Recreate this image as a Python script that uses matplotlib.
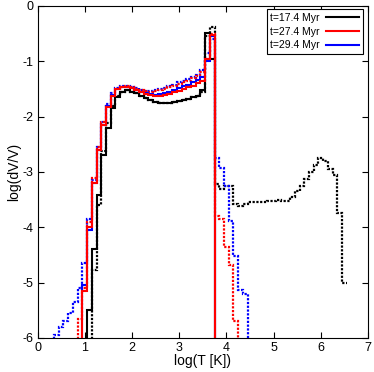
"""
Volume-weighted temperature PDF, log(dV/V) vs log(T), three snapshots.
Solid = one region, dotted = the other (histogram steps, 0.1 dex bins).
"""

import numpy as np
import matplotlib
matplotlib.use("Agg")
import matplotlib.pyplot as plt


# -------------------------------------------------
# DATA (bin centres start at *_start, 0.1 dex wide)
# -------------------------------------------------
BIN = 0.1

black_solid_start = 1.0
black_solid = [-7, -5.5, -4.4, -3.42, -2.7, -2.2, -1.85, -1.65, -1.55, -1.52,
               -1.55, -1.58, -1.62, -1.67, -1.7, -1.73, -1.75, -1.75, -1.75,
               -1.74, -1.72, -1.7, -1.68, -1.65, -1.62, -1.52, -0.48, -0.95, -7]

red_solid_start = 0.9
red_solid = [-7, -5.15, -4.0, -3.2, -2.6, -2.15, -1.83, -1.62, -1.5, -1.47,
             -1.46, -1.48, -1.52, -1.56, -1.59, -1.61, -1.62, -1.62, -1.61,
             -1.59, -1.56, -1.53, -1.5, -1.47, -1.44, -1.4, -1.36, -0.95,
             -0.52, -7]

blue_solid_start = 0.9
blue_solid = [-7, -5.05, -4.05, -3.2, -2.6, -2.15, -1.8, -1.6, -1.5, -1.47,
              -1.47, -1.49, -1.52, -1.55, -1.58, -1.59, -1.6, -1.59, -1.58,
              -1.56, -1.52, -1.48, -1.45, -1.42, -1.38, -1.33, -1.28, -1.0,
              -0.55, -7]

black_dot_start = 1.1
black_dot = [-7, -4.78, -3.6, -2.62, -2.12, -1.8, -1.62, -1.55, -1.52, -1.55,
             -1.58, -1.62, -1.67, -1.7, -1.73, -1.75, -1.75, -1.75, -1.74,
             -1.72, -1.7, -1.68, -1.65, -1.62, -1.55, -0.55, -0.38, -3.22,
             -3.3, -3.25, -3.25, -3.58, -3.62, -3.58, -3.55, -3.55, -3.55,
             -3.54, -3.52, -3.52, -3.5, -3.52, -3.52, -3.45, -3.35, -3.25,
             -3.12, -3.0, -2.88, -2.75, -2.8, -2.95, -3.05, -3.75, -5.0]

red_dot_start = 0.8
red_dot = [-7, -5.65, -5.1, -3.9, -3.1, -2.55, -2.1, -1.8, -1.6, -1.5, -1.46,
           -1.45, -1.47, -1.5, -1.52, -1.54, -1.55, -1.54, -1.52, -1.5, -1.47,
           -1.44, -1.41, -1.38, -1.35, -1.31, -1.26, -1.2, -0.95, -0.5, -3.8,
           -3.85, -4.35, -4.68, -5.7, -7]

blue_dot_start = 0.3
blue_dot = [-7, -5.95, -5.8, -5.7, -5.55, -5.35, -5.1, -4.65, -3.85, -3.15,
            -2.55, -2.1, -1.78, -1.58, -1.48, -1.45, -1.44, -1.46, -1.49,
            -1.52, -1.54, -1.54, -1.52, -1.5, -1.48, -1.45, -1.42, -1.38,
            -1.35, -1.32, -1.28, -1.24, -1.15, -0.85, -0.6, -2.75, -2.92,
            -3.25, -3.88, -4.52, -5.13, -5.2, -7]

labels = ["t=17.4 Myr", "t=27.4 Myr", "t=29.4 Myr"]


def edges_for(start, values):
    """Bin edges for a run of 0.1-dex bins starting at centre `start`."""
    n = len(values)
    return start - BIN / 2 + BIN * np.arange(n + 1)


# -------------------------------------------------
# PLOT
# -------------------------------------------------
plt.rcParams["font.family"] = ["Liberation Sans", "DejaVu Sans"]
plt.rcParams["axes.unicode_minus"] = False

fig = plt.figure(figsize=(3.74, 3.72), dpi=100)
ax = fig.add_axes([0.1003, 0.0914, 0.8837, 0.8925])

DOT = (0, (1, 0.7))
LW = 1.5
LW_DOT = 1.6

ax.stairs(black_dot, edges_for(black_dot_start, black_dot), baseline=None,
          color="black", lw=LW_DOT, linestyle=DOT)
ax.stairs(blue_dot, edges_for(blue_dot_start, blue_dot), baseline=None,
          color="#0000ff", lw=LW_DOT, linestyle=DOT)
ax.stairs(red_dot, edges_for(red_dot_start, red_dot), baseline=None,
          color="#ff0000", lw=LW_DOT, linestyle=DOT)

ax.stairs(black_solid, edges_for(black_solid_start, black_solid),
          baseline=None, color="black", lw=LW)
ax.stairs(blue_solid, edges_for(blue_solid_start, blue_solid),
          baseline=None, color="#0000ff", lw=LW)
ax.stairs(red_solid, edges_for(red_solid_start, red_solid),
          baseline=None, color="#ff0000", lw=LW)

ax.set_xlim(0, 7)
ax.set_ylim(-6, 0)
ax.set_xticks(range(0, 8))
ax.set_yticks(range(-6, 1))
ax.tick_params(direction="in", length=4, width=0.8, labelsize=9,
               top=True, right=True, pad=3)
for s in ax.spines.values():
    s.set_linewidth(0.8)

ax.set_xlabel("log(T [K])", fontsize=10, labelpad=0)
ax.set_ylabel("log(dV/V)", fontsize=10, labelpad=1)

leg_lines = [plt.Line2D([], [], color=c, lw=LW) for c in ("black", "#ff0000", "#0000ff")]
ax.legend(leg_lines, labels, loc="upper right", bbox_to_anchor=(0.985, 0.99),
          markerfirst=False, fontsize=7.5, frameon=True, fancybox=False,
          edgecolor="black", framealpha=1, handlelength=3.2,
          borderpad=0.35, labelspacing=0.35, handletextpad=0.6,
          borderaxespad=0.0).get_frame().set_linewidth(0.8)

fig.savefig("out.png", dpi=100)
